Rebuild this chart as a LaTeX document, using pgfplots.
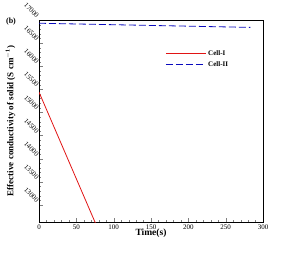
\documentclass[border=0pt]{standalone}
\usepackage{pgfplots}
\pgfplotsset{compat=1.18}
\usepackage{fontspec}
\setmainfont{Liberation Serif}
\definecolor{cellred}{RGB}{225,20,20}
\definecolor{cellblue}{RGB}{10,10,190}
\begin{document}
\begin{tikzpicture}
\begin{axis}[
  scale only axis,
  width=224pt, height=202pt,
  xmin=0, xmax=300, ymin=12630, ymax=17000,
  xtick={0,50,...,300},
  ytick={13000,13500,...,17000},
  minor x tick num=4,
  minor y tick num=4,
  tick align=inside,
  axis line style={line width=0.9pt},
  major tick length=4pt, minor tick length=2pt,
  xtick pos=bottom, ytick pos=left,
  scaled y ticks=false,
  /pgf/number format/assume math mode=true,
  /pgf/number format/1000 sep={},
  tick label style={font=\fontsize{7}{8}\selectfont},
  yticklabel style={xshift=-3pt, yshift=1pt, rotate=-45, anchor=south east, inner sep=0.5pt},
  xticklabel style={yshift=1pt},
  xlabel={\textbf{Time(s)}},
  ylabel={\textbf{Effective conductivity of solid (S cm$^{\mathbf{-1}}$)}},
  xlabel style={font=\fontsize{9.5}{10}\selectfont, yshift=7pt},
  ylabel style={font=\fontsize{9}{10}\selectfont, yshift=4pt},
  legend style={draw=none, fill=none, at={(0.55,0.87)}, anchor=north west, font=\fontsize{7}{8}\selectfont\bfseries, row sep=0.5pt},
  legend cell align=left,
  legend image code/.code={\draw[#1] (0pt,0pt) -- (40pt,0pt);},
]
\addplot[color=cellred, line width=0.8pt] coordinates {(0,15440) (80,12440)};
\addlegendentry{Cell-I}
\addplot[color=cellblue, line width=0.8pt, dash pattern=on 7pt off 3pt] coordinates {(0,16930) (283,16840)};
\addlegendentry{Cell-II}
\coordinate (SW) at (rel axis cs:0,0);
\coordinate (NW) at (rel axis cs:0,1);
\coordinate (NE) at (rel axis cs:1,1);
\end{axis}
\node[font=\fontsize{8}{9}\selectfont\bfseries, anchor=center] at ([xshift=-28pt, yshift=-1.5pt]NW) {(b)};
\useasboundingbox ([xshift=-39pt,yshift=-31pt]SW) rectangle ([xshift=36pt,yshift=20pt]NE);
\end{tikzpicture}
\end{document}
